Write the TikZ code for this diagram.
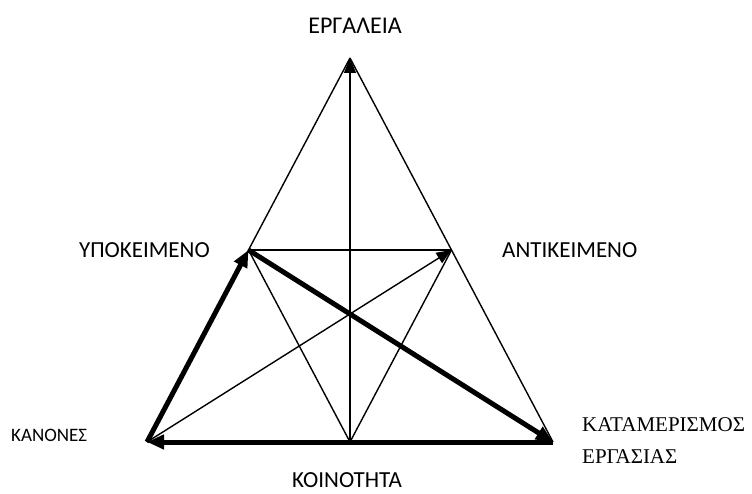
\documentclass[tikz,border=0pt]{standalone}
\usepackage{fontspec}
\setmainfont{Carlito}
\newfontfamily\serifgr{Liberation Serif}
\usetikzlibrary{arrows.meta}
\begin{document}
\begin{tikzpicture}[x=1pt,y=-1pt,
  thin line/.style={line width=1.4pt},
  thick line/.style={line width=5pt},
  thin arrow/.style={thin line,-{Triangle[length=15pt,width=12pt]}},
  thick arrow/.style={thick line,-{Triangle[length=17pt,width=14pt]}},
  lbl/.style={inner sep=0pt,font=\fontsize{23}{27}\selectfont},
  big lbl/.style={inner sep=0pt,font=\fontsize{24}{28}\selectfont},
  small lbl/.style={inner sep=0pt,font=\fontsize{19}{23}\selectfont},
  serif lbl/.style={inner sep=0pt,align=left,font=\serifgr\fontsize{21}{32}\selectfont}]
\useasboundingbox (0,0) rectangle (752,494);
\coordinate (apex) at (350,58);
\coordinate (bl) at (147,442);
\coordinate (br) at (553,442);
\coordinate (bm) at (350,442);
\coordinate (lm) at (248.5,250);
\coordinate (rm) at (451.5,250);
% thin lines
\draw[thin line] (apex) -- (bl);
\draw[thin line] (apex) -- (br);
\draw[thin line] (lm) -- (rm);
\draw[thin line] (bm) -- (lm);
\draw[thin line] (bm) -- (rm);
\draw[thin arrow] (bm) -- (apex);
\draw[thin arrow] (bl) -- (rm);
% thick arrows
\draw[thick arrow] (br) -- (bl);
\draw[thick arrow] (bl) -- (lm);
\draw[thick arrow] (lm) -- (br);
% labels
\node[big lbl] (tools) at (355,26) {ΕΡΓΑΛΕΙΑ};
\node[lbl,anchor=east] (subj) at (210,250) {ΥΠΟΚΕΙΜΕΝΟ};
\node[lbl,anchor=west] (obj) at (502,250) {ΑΝΤΙΚΕΙΜΕΝΟ};
\node[small lbl,anchor=west] (rules) at (11,435) {ΚΑΝΟΝΕΣ};
\node[lbl] (comm) at (347,480) {ΚΟΙΝΟΤΗΤΑ};
\node[serif lbl,anchor=north west] (div) at (582,417) {ΚΑΤΑΜΕΡΙΣΜΟΣ\\ΕΡΓΑΣΙΑΣ};
\end{tikzpicture}
\end{document}
